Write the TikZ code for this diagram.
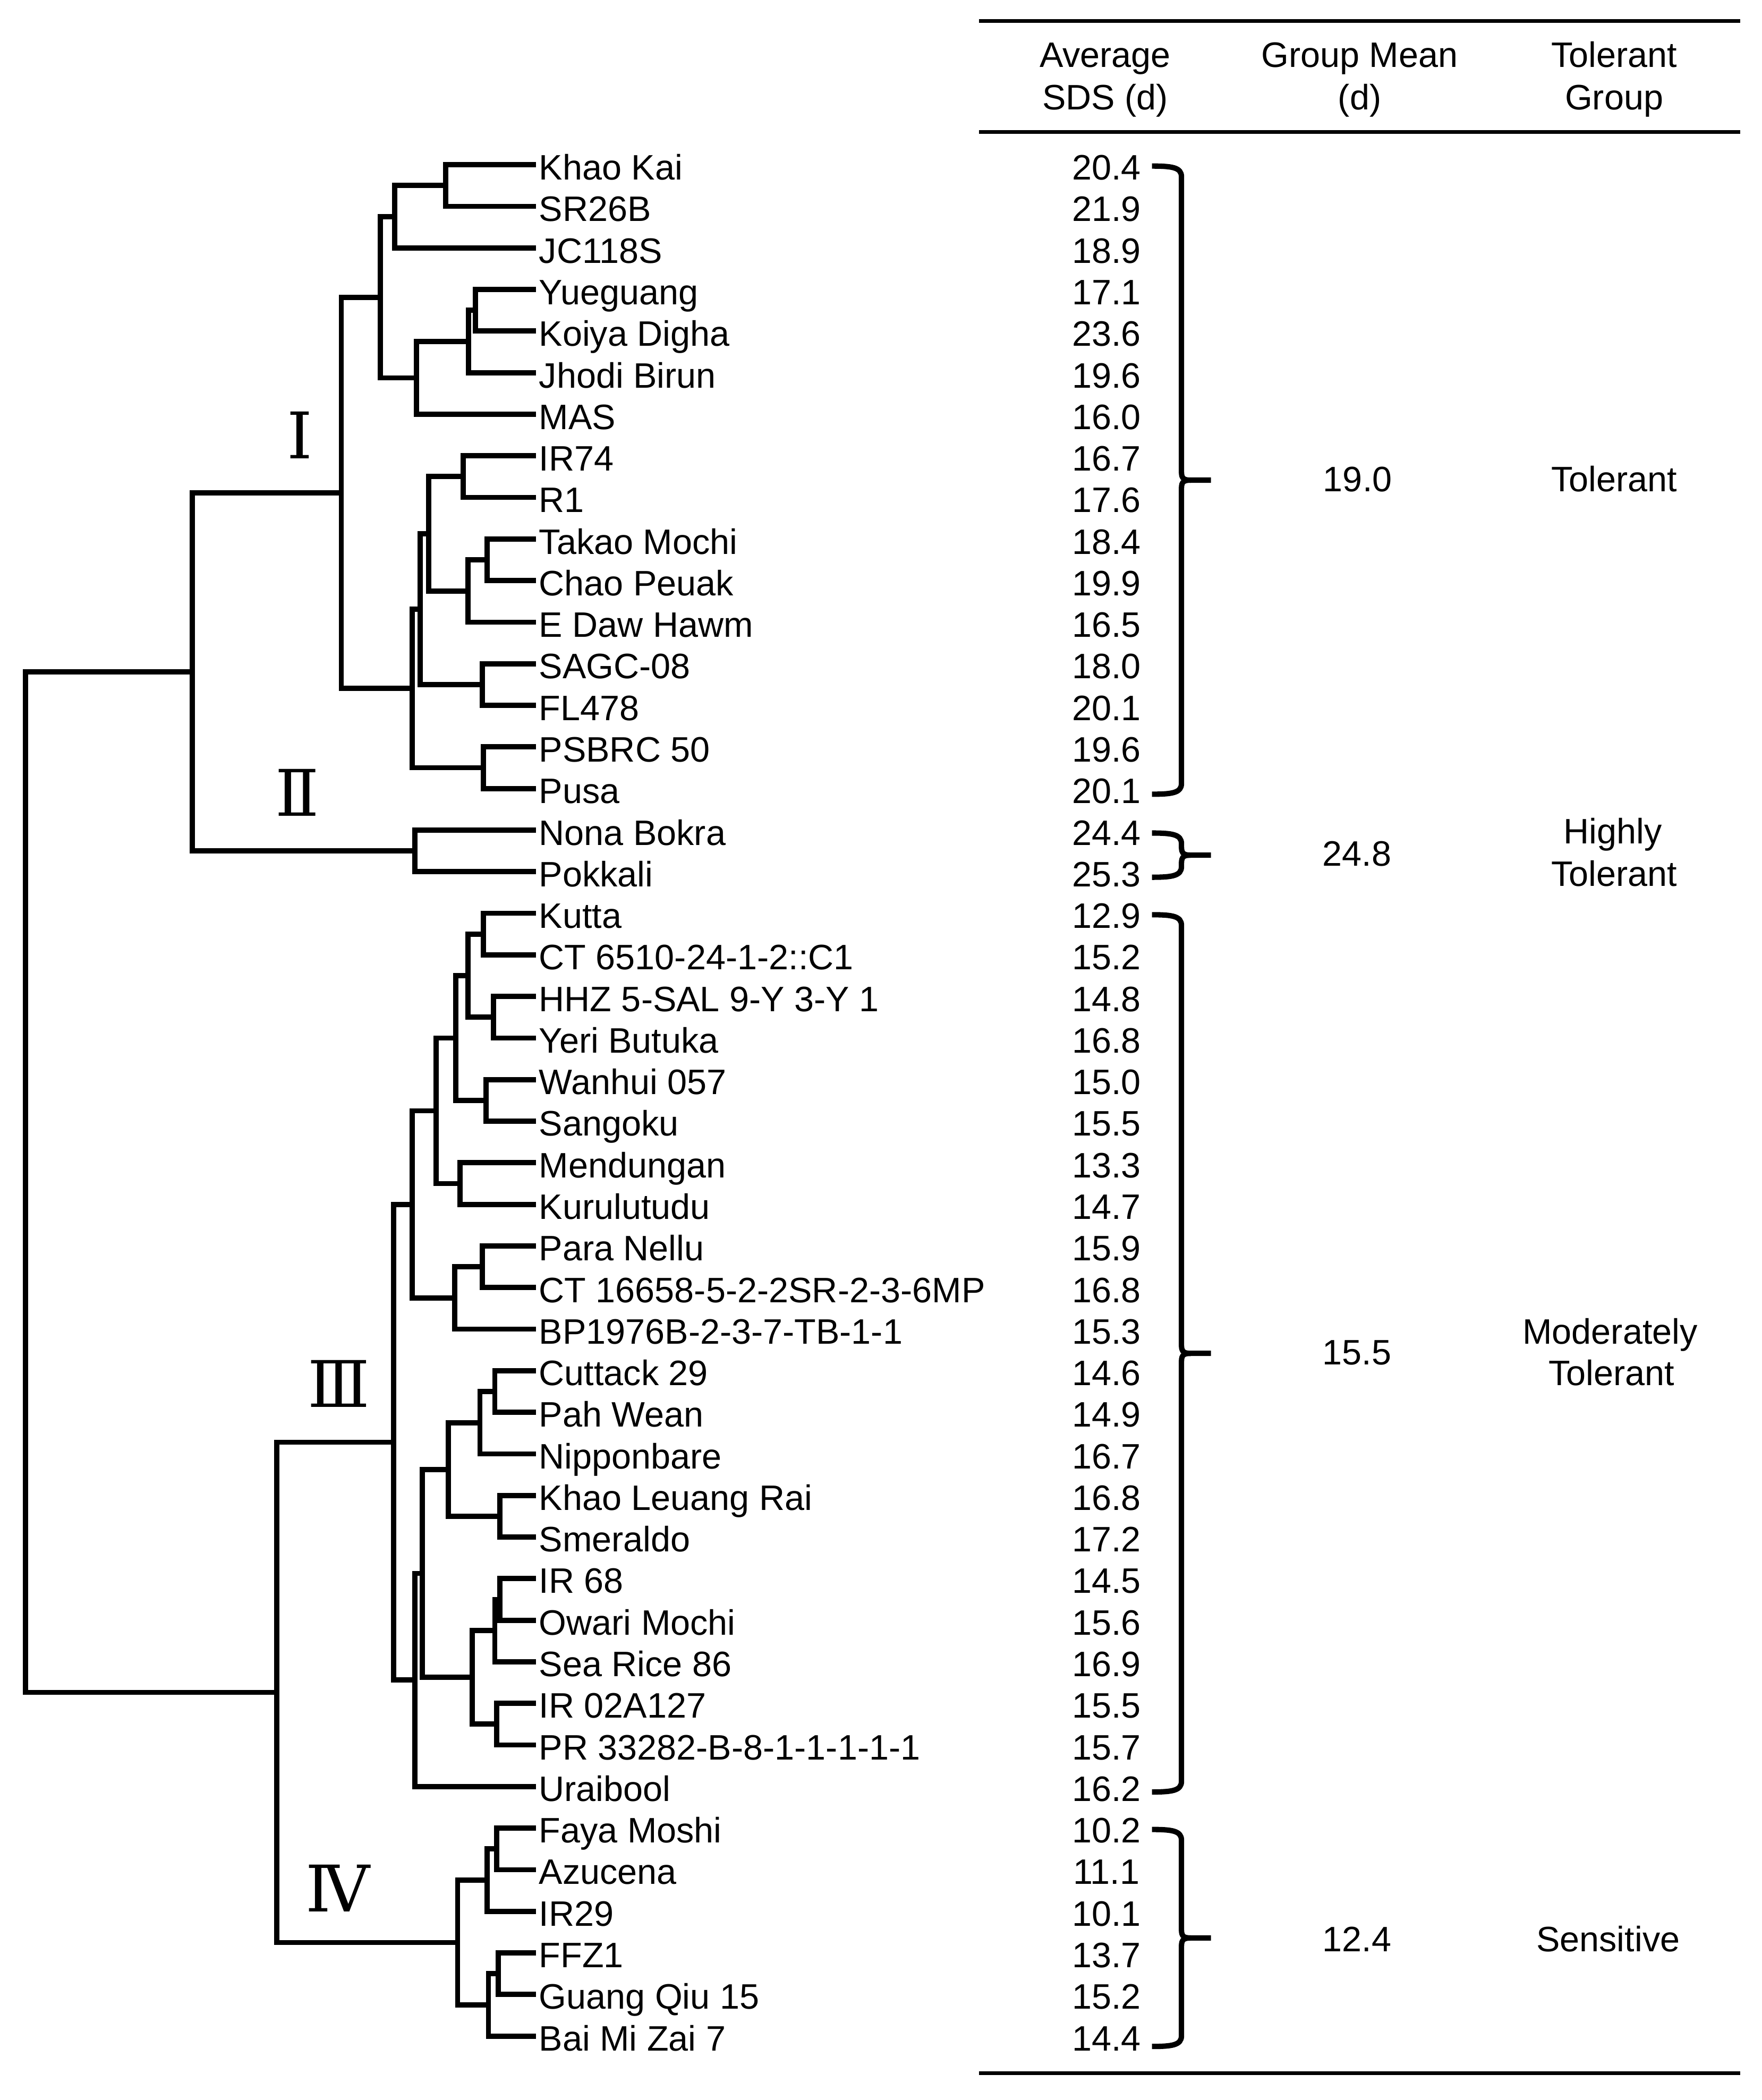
\documentclass[tikz,border=0pt]{standalone}
\usepackage{fontspec}
\setmainfont{Liberation Sans}
\newfontfamily\romanfont{DejaVu Serif}
\usetikzlibrary{calc}
\newcommand\dn[4]{%
  \path ($(#3)!0.5!(#4)$) coordinate (#1m);
  \path (#2,0) coordinate (#1x);
  \coordinate (#1) at (#1m -| #1x);
  \draw[branch] (#3) -| (#1) |- (#4);
}
\newcommand\brc[2]{%
  \pgfmathsetmacro\brcmid{(#1+#2)/2}%
  \draw[bracepath] (860,#1) .. controls (875,{#1}) and (882,{#1+1}) .. (882,{#1+8})
     -- (882,{\brcmid-6}) .. controls (882,{\brcmid-1}) and (884,\brcmid) .. (889,\brcmid) -- (904,\brcmid);
  \draw[bracepath] (860,#2) .. controls (875,{#2}) and (882,{#2-1}) .. (882,{#2-8})
     -- (882,{\brcmid+6}) .. controls (882,{\brcmid+1}) and (884,\brcmid) .. (889,\brcmid);
}
\begin{document}
\begin{tikzpicture}[x=0.5pt,y=-0.5pt,
  branch/.style={line width=1.95pt, black},
  leaf/.style={anchor=base west, inner sep=0pt, font=\fontsize{13.2}{15}\selectfont},
  val/.style={anchor=base, inner sep=0pt, font=\fontsize{13.2}{15}\selectfont},
  tabrule/.style={line width=1.5pt},
  bracepath/.style={line width=2pt},
  roman/.style={inner sep=0pt, font=\romanfont\fontsize{24}{26}\selectfont}]
\path[fill=white, use as bounding box] (0,0) rectangle (1315,1568);
% table rules
\coordinate (r1a) at (731,15.6); \coordinate (r1b) at (1299,15.6);
\coordinate (r2a) at (731,98.5); \coordinate (r2b) at (1299,98.5);
\coordinate (r3a) at (731,1548); \coordinate (r3b) at (1299,1548);
\draw[tabrule] (r1a) -- (r1b);
\draw[tabrule] (r2a) -- (r2b);
\draw[tabrule] (r3a) -- (r3b);
% headers
\node[val] (h1a) at (825,50) {Average};
\node[val] (h1b) at (825,82) {SDS (d)};
\node[val] (h2a) at (1015,50) {Group Mean};
\node[val] (h2b) at (1015,82) {(d)};
\node[val] (h3a) at (1205,50) {Tolerant};
\node[val] (h3b) at (1205,82) {Group};
% leaves
\foreach \lbl/\sds [count=\i] in {Khao Kai/20.4, SR26B/21.9, JC118S/18.9, Yueguang/17.1,
  Koiya Digha/23.6, Jhodi Birun/19.6, MAS/16.0, IR74/16.7, R1/17.6, Takao Mochi/18.4,
  Chao Peuak/19.9, E Daw Hawm/16.5, SAGC-08/18.0, FL478/20.1, PSBRC 50/19.6, Pusa/20.1,
  Nona Bokra/24.4, Pokkali/25.3, Kutta/12.9, CT 6510-24-1-2::C1/15.2,
  HHZ 5-SAL 9-Y 3-Y 1/14.8, Yeri Butuka/16.8, Wanhui 057/15.0, Sangoku/15.5,
  Mendungan/13.3, Kurulutudu/14.7, Para Nellu/15.9, CT 16658-5-2-2SR-2-3-6MP/16.8,
  BP1976B-2-3-7-TB-1-1/15.3, Cuttack 29/14.6, Pah Wean/14.9, Nipponbare/16.7,
  Khao Leuang Rai/16.8, Smeraldo/17.2, IR 68/14.5, Owari Mochi/15.6, Sea Rice 86/16.9,
  IR 02A127/15.5, PR 33282-B-8-1-1-1-1-1/15.7, Uraibool/16.2, Faya Moshi/10.2,
  Azucena/11.1, IR29/10.1, FFZ1/13.7, Guang Qiu 15/15.2, Bai Mi Zai 7/14.4}{
  \coordinate (L\i) at (400,{123+31.05*(\i-1)});
  \node[leaf] (T\i) at (402,{134.3+31.04*(\i-1)}) {\lbl};
  \node[val] (V\i) at (826,{134.3+31.04*(\i-1)}) {\sds};
}
% cluster I
\dn{a1}{332.7}{L1}{L2}
\dn{a2}{294.8}{a1}{L3}
\dn{a3}{354.9}{L4}{L5}
\dn{a4}{349.9}{a3}{L6}
\dn{a5}{311.0}{a4}{L7}
\dn{a6}{284.0}{a2}{a5}
\dn{b1}{345.7}{L8}{L9}
\dn{b2}{363.8}{L10}{L11}
\dn{b3}{349.3}{b2}{L12}
\dn{b4}{320.1}{b1}{b3}
\dn{b5}{360.2}{L13}{L14}
\dn{b6}{313.8}{b4}{b5}
\dn{b7}{361.0}{L15}{L16}
\dn{b8}{307.6}{b6}{b7}
\dn{cI}{254.8}{a6}{b8}
% cluster II
\dn{cII}{309.6}{L17}{L18}
\dn{cItwo}{143.6}{cI}{cII}
% cluster III
\dn{c1}{361.0}{L19}{L20}
\dn{c2}{368.5}{L21}{L22}
\dn{c3}{349.3}{c1}{c2}
\dn{c4}{363.0}{L23}{L24}
\dn{c5}{340.2}{c3}{c4}
\dn{c6}{343.5}{L25}{L26}
\dn{c7}{325.7}{c5}{c6}
\dn{c8}{360.2}{L27}{L28}
\dn{c9}{339.3}{c8}{L29}
\dn{c10}{307.6}{c7}{c9}
\dn{d1}{369.4}{L30}{L31}
\dn{d2}{358.3}{d1}{L32}
\dn{d3}{373.0}{L33}{L34}
\dn{d4}{334.6}{d2}{d3}
\dn{d5}{373.0}{L35}{L36}
\dn{d6}{369.4}{d5}{L37}
\dn{d7}{370.8}{L38}{L39}
\dn{d8}{352.7}{d6}{d7}
\dn{d9}{315.1}{d4}{d8}
\dn{d10}{309.6}{d9}{L40}
\dn{cIII}{293.7}{c10}{d10}
% cluster IV
\dn{e1}{370.8}{L41}{L42}
\dn{e2}{363.8}{e1}{L43}
\dn{e3}{372.1}{L44}{L45}
\dn{e4}{364.6}{e3}{L46}
\dn{cIV}{341.6}{e2}{e4}
\dn{cIIIfour}{206.7}{cIII}{cIV}
\dn{root}{19.0}{cItwo}{cIIIfour}
% roman numerals
\node[roman] (rI) at (224,325) {Ⅰ};
\node[roman] (rII) at (222,592) {Ⅱ};
\node[roman] (rIII) at (253,1033) {Ⅲ};
\node[roman] (rIV) at (252,1410) {Ⅳ};
% braces
\brc{124}{593}
\brc{622}{655}
\brc{683}{1338}
\brc{1366}{1528}
% group means
\node[val] (g1) at (1013.5,367) {19.0};
\node[val] (g2) at (1013,646.5) {24.8};
\node[val] (g3) at (1013,1019) {15.5};
\node[val] (g4) at (1013,1457) {12.4};
% tolerant groups
\node[val] (t1) at (1205,367) {Tolerant};
\node[val] (t2a) at (1204,630) {Highly};
\node[val] (t2b) at (1205,661.5) {Tolerant};
\node[val] (t3a) at (1202,1003.5) {Moderately};
\node[val] (t3b) at (1203,1034.5) {Tolerant};
\node[val] (t4) at (1200.5,1457) {Sensitive};
\end{tikzpicture}
\end{document}
